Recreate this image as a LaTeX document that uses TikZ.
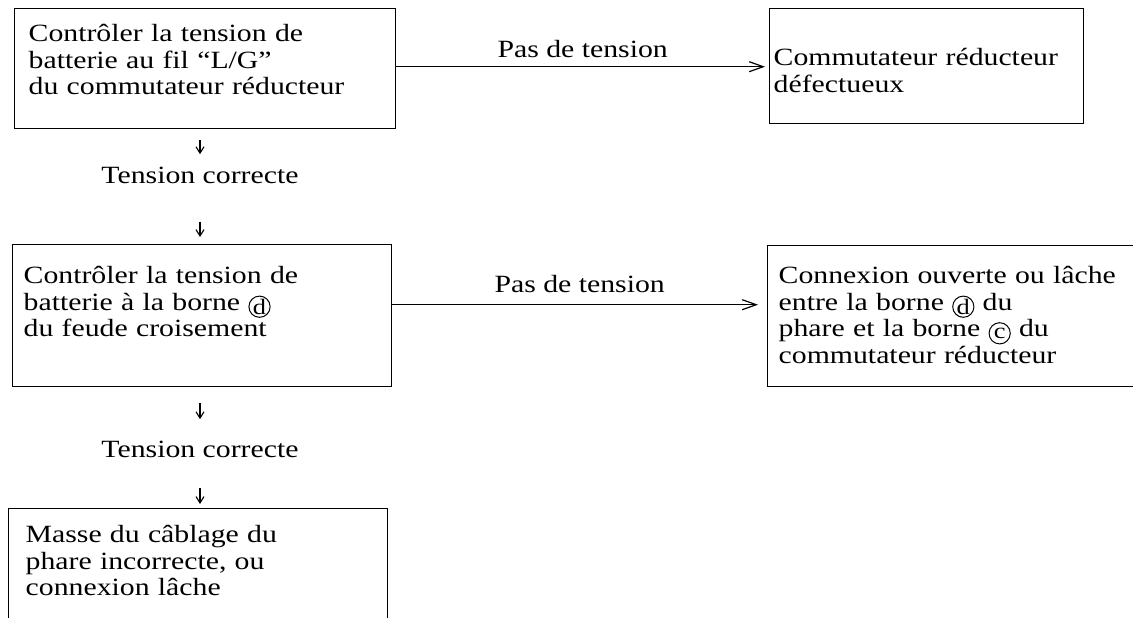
\documentclass[tikz,border=0pt]{standalone}
\usepackage{fontspec}
\setmainfont{Liberation Serif}[FakeStretch=1.2]
\usetikzlibrary{arrows.meta, positioning}

% circled terminal letter
\newcommand{\borne}[1]{\tikz[baseline={([yshift=-1.8pt]bc.center)}]{
  \node[inner sep=0pt, text width={}, text height={}, text depth={}, anchor=center,
        font=\fontsize{11pt}{11pt}\selectfont] (bc) {#1};
  \draw[line width=0.5pt] (bc.center) circle[radius=5.3pt];}}

\begin{document}
\begin{tikzpicture}[
  x=0.5pt, y=-0.5pt,
  font={\fontsize{12.4pt}{13.3pt}\selectfont\lineskiplimit=-10pt},
  box/.style={
    rectangle, draw, line width=0.7pt, anchor=north west,
    align=left, inner ysep=0pt},
  lbl/.style={inner sep=0pt, anchor=base},
  harr/.style={-{Straight Barb[length=7pt, width=5pt]}, line width=0.6pt},
  varr/.style={-{Straight Barb[length=3.2pt, width=4pt]}, line width=0.55pt}
]
% ── Frame ──
\useasboundingbox (0,0) rectangle (1133,617);
\clip (0,0) rectangle (1133,617);
% ── Boxes ──
\node[box, inner xsep=7pt, text width=176.5pt, text height=16.5pt, text depth=43.5pt]
  (B1) at (14,8) {Contrôler la tension de\\batterie au fil “L/G”\\du commutateur réducteur};
\node[box, inner xsep=2pt, text width=153pt, text height=28.5pt, text depth=29pt]
  (B2) at (769,8) {Commutateur réducteur\\défectueux};
\node[box, inner xsep=5.5pt, text width=178.5pt, text height=19.5pt, text depth=51.5pt]
  (B3) at (12,244) {Contrôler la tension de\\batterie à la borne \borne{d}\\du feude croisement};
\node[box, inner xsep=5.5pt, text width=180.5pt, text height=19pt, text depth=51.5pt]
  (B4) at (767,245) {Connexion ouverte ou lâche\\entre la borne \borne{d} du\\phare et la borne \borne{c} du\\commutateur réducteur};
\node[box, inner xsep=8.5pt, text width=172.5pt, text height=17pt, text depth=54pt]
  (B5) at (8,508) {Masse du câblage du\\phare incorrecte, ou\\connexion lâche};
% ── Labels ──
\node[lbl] (T1) at (200,183) {Tension correcte};
\node[lbl] (T2) at (200,457) {Tension correcte};
% ── Side arrows ──
\draw[harr, shorten >=2pt] ([yshift=1pt]B1.east) -- ([yshift=1pt]B1.east -| B2.west)
  node[lbl, midway, yshift=4.5pt] (P1) {Pas de tension};
\draw[harr, shorten >=4.5pt] ([yshift=5.5pt]B3.east) -- ([yshift=5.5pt]B3.east -| B4.west)
  node[lbl, midway, yshift=6pt] (P2) {Pas de tension};
% ── Down arrows ──
\draw[varr, shorten <=5.5pt, shorten >=6pt] (T1.north |- B1.south) -- (T1.north);
\draw[varr, shorten <=19pt, shorten >=3.5pt] (T1.south) -- (T1.south |- B3.north);
\draw[varr, shorten <=8pt, shorten >=10.5pt] (T2.north |- B3.south) -- (T2.north);
\draw[varr, shorten <=15pt, shorten >=2pt] (T2.south) -- (T2.south |- B5.north);
\end{tikzpicture}
\end{document}
